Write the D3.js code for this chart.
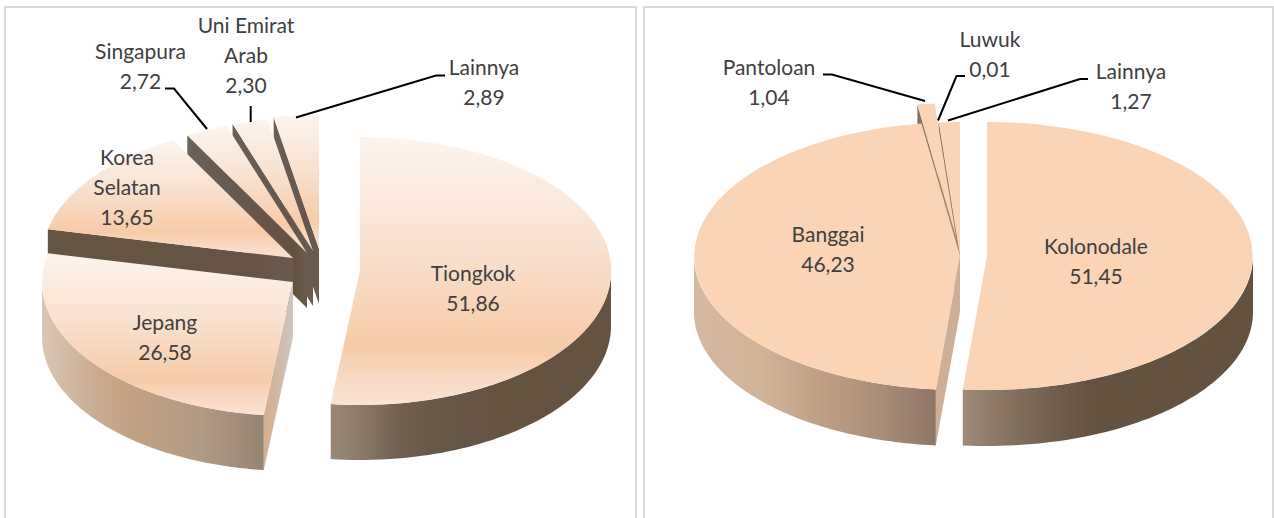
<!DOCTYPE html>
<html>
<head>
<meta charset="utf-8">
<script src="https://cdnjs.cloudflare.com/ajax/libs/d3/7.8.5/d3.min.js"></script>
<style>
  html, body { margin: 0; padding: 0; background: #fff; overflow: hidden; }
  text { font-family: Lato, "Open Sans", sans-serif; font-size: 21px; fill: #404040; text-anchor: middle; }
</style>
</head>
<body>
<svg id="chart" width="1274" height="518"></svg>
<script>
// Values
const exportCategories = [["Tiongkok"], ["Jepang"], ["Korea", "Selatan"], ["Singapura"], ["Uni Emirat", "Arab"], ["Lainnya"]];
const exportValues = [51.86, 26.58, 13.65, 2.72, 2.30, 2.89];

const portCategories = [["Kolonodale"], ["Banggai"], ["Pantoloan"], ["Luwuk"], ["Lainnya"]];
const portValues = [51.45, 46.23, 1.04, 0.01, 1.27];

// Layout of the left pie: exploded offsets from the pie centre, text and leader lines
const exportLayout = {
  centre: [321, 262], rx: 251, ry: 134, depth: 55,
  explode: [[39, 9], [-28, 20], [-28, -4], [-14, -9], [-8, -11], [-2, -13]],
  labels: [[473, 281], [165, 330], [127, 165], [140.5, 59], [246, 33], [484, 75]],
  leaders: [
    null, null, null,
    [[165, 88.5], [174, 88.5], [207, 129]],
    [[250.7, 106], [250.7, 122]],
    [[296, 117.5], [436, 75.5], [445, 75.5]]
  ],
  faceStops: [[0, "#fcf4ee"], [0.4, "#f9e2d0"], [0.78, "#f6cba7"], [0.92, "#f9dcc6"], [1, "#fae3d2"]],
  wallStops: [
    [[0, "#9a8877"], [0.1, "#8c7b6b"], [0.25, "#6f5f50"], [0.4, "#665749"], [0.6, "#655341"], [1, "#655341"]],
    [[0, "#d9c7b5"], [0.26, "#c8aa8e"], [0.4, "#c3a283"], [0.72, "#b09a84"], [1, "#978472"]]
  ],
  edgeStops: [
    null,
    [[0, "#d5ae8e"], [0.5, "#d2b9a4"], [1, "#cbc7c3"]],
    [[0, "#665443"], [0.8, "#655344"], [1, "#6a5b4f"]],
    [[0, "#6b6258"], [0.6, "#66554a"], [0.9, "#64513f"], [1, "#6b5b4e"]],
    [[0, "#6b5f55"], [0.7, "#66554a"], [1, "#6b5b4e"]],
    [[0, "#6b5f55"], [0.7, "#66554a"], [1, "#6b5b4e"]]
  ]
};

// Layout of the right pie
const portLayout = {
  centre: [960, 256], rx: 266, ry: 134, depth: 56,
  explode: [[27, 0], [0, 0], [-4, -19], [0, 0], [0, 0]],
  labels: [[1096, 254], [828, 242], [769, 75], [990, 47], [1131, 79]],
  leaders: [
    null, null,
    [[823, 74.5], [832, 74.5], [925, 101]],
    [[965, 76], [956.5, 76], [938, 120.5]],
    [[1088, 79], [1080, 79], [948, 120.5]]
  ],
  faceStops: [[0, "#fad4b4"], [1, "#fad4b4"]],
  wallStops: [
    [[0, "#a08a78"], [0.16, "#86715f"], [0.34, "#6d5b4b"], [0.44, "#635240"], [1, "#635240"]],
    [[0, "#d4b8a0"], [0.27, "#d2b498"], [0.52, "#c0a084"], [0.77, "#a88e78"], [1, "#8f7665"]]
  ],
  edgeStops: [
    null,
    [[0, "#ceae94"], [1, "#ceae94"]],
    [[0, "#85705c"], [1, "#a08a70"]],
    [[0, "#85705c"], [1, "#a08a70"]],
    [[0, "#85705c"], [1, "#a08a70"]]
  ]
};

const svg = d3.select("#chart");
const defs = svg.append("defs");
const idLocale = d3.formatLocale({ decimal: ",", thousands: ".", grouping: [3], currency: ["", ""] });
const formatValue = idLocale.format(".2f");
const line = d3.line();
const arc = d3.arc().innerRadius(0).outerRadius(1);
const halfPi = Math.PI / 2;
let gradientCount = 0;

// Panel frames, open at the bottom
const frames = [[5, 636], [644, 1273]];
const frameLine = d3.line();
frames.forEach(([x0, x1]) => {
  svg.append("path")
    .attr("d", frameLine([[x0, 518], [x0, 7], [x1, 7], [x1, 518]]))
    .attr("fill", "none")
    .attr("stroke", "#d9d9d9")
    .attr("stroke-width", 2);
});

function makeGradient(stops, vertical) {
  const id = "grad" + gradientCount++;
  const gradient = defs.append("linearGradient")
    .attr("id", id)
    .attr("x1", 0).attr("y1", 0)
    .attr("x2", vertical ? 0 : 1).attr("y2", vertical ? 1 : 0);
  gradient.selectAll("stop").data(stops).join("stop")
    .attr("offset", (d) => d[0])
    .attr("stop-color", (d) => d[1]);
  return `url(#${id})`;
}

function drawPie(categories, values, layout) {
  const { centre, rx, ry, depth } = layout;
  const slices = d3.pie().sort(null).value((d) => d)(values);

  // A slice's apex is the pie centre moved by its explosion
  const apex = (i) => [centre[0] + layout.explode[i][0], centre[1] + layout.explode[i][1]];
  const rim = (i, a) => {
    const [cx, cy] = apex(i);
    return [cx + rx * Math.sin(a), cy - ry * Math.cos(a)];
  };

  // Painter's order: slices facing the back of the pie first
  const facing = (i) => Math.cos((slices[i].startAngle + slices[i].endAngle) / 2);
  const order = d3.range(slices.length).sort((a, b) => facing(b) - facing(a));
  const layer = svg.append("g");

  order.forEach((i) => {
    const s = slices[i];
    const [cx, cy] = apex(i);
    const g = layer.append("g");

    // Cut face along the start edge, seen only when it turns towards the viewer
    if (s.startAngle > Math.PI && layout.edgeStops[i]) {
      const p = rim(i, s.startAngle);
      g.append("path")
        .attr("d", line([[cx, cy], p, [p[0], p[1] + depth], [cx, cy + depth]]) + "Z")
        .attr("fill", makeGradient(layout.edgeStops[i], false));
    }

    // Outer wall, front half of the rim only
    const a0 = Math.max(s.startAngle, halfPi);
    const a1 = Math.min(s.endAngle, 3 * halfPi);
    if (a1 > a0 && layout.wallStops[i]) {
      const angles = d3.range(0, 61).map((k) => a0 + (a1 - a0) * k / 60);
      const top = angles.map((a) => rim(i, a));
      const bottom = top.map(([x, y]) => [x, y + depth]).reverse();
      g.append("path")
        .attr("d", line(top.concat(bottom)) + "Z")
        .attr("fill", makeGradient(layout.wallStops[i], false));
    }

    // Top face
    g.append("path")
      .attr("transform", `translate(${cx},${cy}) scale(${rx},${ry})`)
      .attr("d", arc(s))
      .attr("fill", makeGradient(layout.faceStops, true));
  });

  // Leader lines
  svg.append("g").selectAll("path")
    .data(layout.leaders.filter(Boolean))
    .join("path")
    .attr("d", (d) => line(d))
    .attr("fill", "none")
    .attr("stroke", "#000")
    .attr("stroke-width", 2);

  // Labels: category lines, then the value
  categories.forEach((name, i) => {
    const [x, y] = layout.labels[i];
    const text = svg.append("text").attr("x", x).attr("y", y);
    name.concat(formatValue(values[i])).forEach((row, k) => {
      text.append("tspan").attr("x", x).attr("dy", k ? 30 : 0).text(row);
    });
  });
}

drawPie(exportCategories, exportValues, exportLayout);
drawPie(portCategories, portValues, portLayout);
</script>
</body>
</html>
